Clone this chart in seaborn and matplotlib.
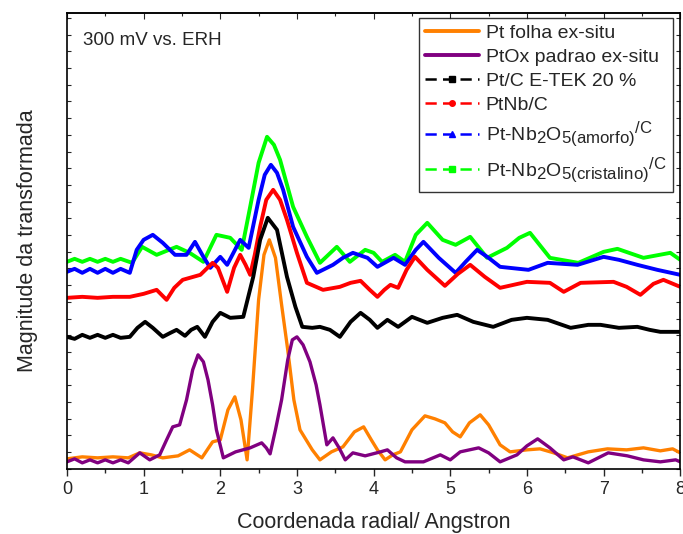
import numpy as np
import pandas as pd
import seaborn as sns
import matplotlib
matplotlib.use("Agg")
import matplotlib.pyplot as plt
import matplotlib._mathtext as _mt
from matplotlib.lines import Line2D
from matplotlib.ticker import MultipleLocator, NullFormatter

# ---------------- data ----------------
x_orange = [0, 0.2, 0.4, 0.6, 0.8, 0.95, 1.1, 1.25, 1.45, 1.6, 1.76, 1.9, 2.0, 2.1, 2.19, 2.27, 2.35,
            2.42, 2.5, 2.57, 2.64, 2.72, 2.8, 2.88, 2.96, 3.04, 3.12, 3.2, 3.3, 3.45, 3.6, 3.75, 3.87,
            3.97, 4.05, 4.15, 4.25, 4.35, 4.5, 4.67, 4.8, 4.93, 5.03, 5.13, 5.25, 5.39, 5.5, 5.65,
            5.78, 6.0, 6.17, 6.35, 6.53, 6.8, 7.05, 7.3, 7.52, 7.74, 7.9, 8.0]
y_orange = [10, 12, 11, 12, 11, 16, 14, 11, 13, 19, 11, 27, 29, 59, 72, 49, 9,
            79, 169, 214, 229, 211, 164, 119, 69, 39, 29, 19, 9, 17, 22, 37, 42,
            29, 19, 9, 14, 17, 39, 53, 50, 46, 37, 32, 46, 54, 44, 24,
            17, 19, 20, 16, 11, 17, 20, 19, 21, 18, 20, 16]

x_purple = [0, 0.1, 0.2, 0.3, 0.4, 0.5, 0.6, 0.7, 0.8, 0.95, 1.08, 1.21, 1.3, 1.38, 1.47, 1.56, 1.64,
            1.71, 1.78, 1.84, 1.9, 1.95, 2.04, 2.12, 2.2, 2.39, 2.54, 2.6, 2.65, 2.72, 2.8, 2.88,
            2.94, 3.0, 3.08, 3.17, 3.25, 3.3, 3.39, 3.47, 3.55, 3.63, 3.73, 3.89, 4.09, 4.18, 4.3,
            4.41, 4.65, 4.87, 5.0, 5.13, 5.37, 5.5, 5.65, 5.87, 6.0, 6.14, 6.3, 6.48, 6.6, 6.8,
            7.06, 7.31, 7.52, 7.74, 7.94, 8.0]
y_purple = [7, 10, 6, 9, 6, 9, 6, 9, 6, 16, 9, 14, 29, 42, 44, 69, 99,
            114, 107, 89, 64, 39, 11, 14, 17, 21, 26, 21, 15, 39, 69, 109,
            129, 132, 124, 107, 84, 64, 24, 31, 21, 9, 16, 13, 17, 19, 11,
            7, 7, 14, 9, 17, 21, 16, 7, 14, 23, 30, 21, 9, 12, 6,
            16, 13, 9, 7, 9, 7]

x_black = [0, 0.1, 0.2, 0.3, 0.4, 0.5, 0.6, 0.7, 0.82, 0.92, 1.02, 1.12, 1.25, 1.35, 1.43, 1.54, 1.62,
           1.7, 1.8, 1.9, 2.0, 2.13, 2.3, 2.43, 2.52, 2.62, 2.74, 2.87, 2.98, 3.07, 3.2, 3.3, 3.43,
           3.56, 3.7, 3.83, 3.95, 4.05, 4.18, 4.32, 4.5, 4.7, 4.9, 5.09, 5.3, 5.56, 5.8, 6.0, 6.27,
           6.57, 6.8, 6.96, 7.2, 7.44, 7.6, 7.74, 8.0]
y_black = [132, 130, 134, 131, 134, 131, 134, 131, 132, 141, 147, 141, 132, 136, 139, 133, 139,
           142, 132, 147, 156, 151, 152, 192, 229, 251, 239, 192, 162, 142, 141, 142, 139,
           132, 147, 156, 149, 141, 149, 142, 152, 146, 151, 154, 147, 142, 149, 151, 149,
           141, 144, 144, 141, 142, 139, 137, 137]

x_red = [0, 0.2, 0.4, 0.6, 0.82, 1.0, 1.17, 1.3, 1.4, 1.51, 1.74, 1.9, 1.97, 2.09, 2.18, 2.26, 2.33,
         2.39, 2.45, 2.52, 2.6, 2.69, 2.78, 2.87, 3.0, 3.13, 3.34, 3.56, 3.7, 3.83, 3.95, 4.05, 4.14,
         4.22, 4.32, 4.43, 4.54, 4.7, 4.93, 5.1, 5.26, 5.45, 5.65, 6.0, 6.3, 6.48, 6.7, 7.13, 7.3,
         7.48, 7.65, 7.78, 8.0]
y_red = [171, 172, 171, 172, 172, 175, 179, 169, 181, 189, 194, 206, 201, 177, 201, 214, 204,
         194, 214, 242, 269, 279, 269, 249, 216, 186, 179, 182, 186, 188, 179, 172, 179,
         184, 181, 199, 212, 199, 183, 195, 204, 192, 181, 187, 186, 177, 186, 187, 182,
         174, 185, 189, 182]

x_blue = [0, 0.1, 0.2, 0.3, 0.4, 0.5, 0.6, 0.7, 0.82, 0.91, 1.0, 1.12, 1.25, 1.41, 1.56, 1.67, 1.78,
          1.87, 2.0, 2.09, 2.26, 2.37, 2.5, 2.58, 2.66, 2.74, 2.82, 2.95, 3.13, 3.26, 3.47, 3.6,
          3.73, 3.92, 4.05, 4.26, 4.41, 4.55, 4.65, 4.85, 5.07, 5.2, 5.35, 5.5, 5.65, 6.02, 6.27,
          6.66, 7.0, 7.2, 7.44, 7.7, 8.0]
y_blue = [197, 200, 196, 200, 196, 200, 196, 200, 196, 219, 229, 234, 226, 214, 214, 227, 212,
          201, 212, 204, 229, 221, 269, 294, 304, 296, 279, 242, 212, 196, 204, 211,
          216, 211, 202, 211, 204, 219, 227, 211, 196, 207, 219, 211, 202, 199, 206,
          204, 212, 209, 204, 199, 194]

x_green = [0, 0.1, 0.2, 0.3, 0.4, 0.5, 0.6, 0.7, 0.85, 0.98, 1.17, 1.3, 1.43, 1.6, 1.78, 1.95, 2.13,
           2.28, 2.39, 2.5, 2.61, 2.7, 2.78, 2.95, 3.13, 3.3, 3.52, 3.69, 3.89, 4.0, 4.11, 4.28,
           4.41, 4.55, 4.7, 4.9, 5.07, 5.26, 5.48, 5.74, 5.9, 6.04, 6.3, 6.67, 7.0, 7.18, 7.52,
           7.87, 8.0]
y_green = [207, 210, 207, 210, 207, 210, 207, 210, 206, 222, 214, 218, 222, 216, 207, 234, 231,
           219, 262, 306, 332, 324, 309, 262, 232, 206, 222, 207, 219, 216, 207, 214,
           207, 234, 246, 229, 224, 232, 211, 221, 231, 236, 211, 206, 217, 220, 211,
           216, 209]

labels = ["Pt folha ex-situ",
          "PtOx padrao ex-situ",
          "Pt/C E-TEK 20 %",
          "PtNb/C",
          r"Pt-Nb$_{2}$O$_{5\mathrm{(amorfo)}}$$^{\mathrm{/C}}$",
          r"Pt-Nb$_{2}$O$_{5\mathrm{(cristalino)}}$$^{\mathrm{/C}}$"]
colors = ["#FF8000", "#800080", "#000000", "#FF0000", "#0000FF", "#00FF00"]
markers = [None, None, "s", "o", "^", "s"]
xs = [x_orange, x_purple, x_black, x_red, x_blue, x_green]
ys = [y_orange, y_purple, y_black, y_red, y_blue, y_green]

# ---------------- style ----------------
sns.set_style("ticks")
plt.rcParams["font.family"] = ["Liberation Sans", "DejaVu Sans"]
plt.rcParams["mathtext.fontset"] = "custom"
plt.rcParams["mathtext.rm"] = "Liberation Sans"
plt.rcParams["mathtext.it"] = "Liberation Sans"
plt.rcParams["mathtext.default"] = "regular"
# the reference uses larger sub/superscripts than mathtext's default
try:
    _mt.SHRINK_FACTOR = 0.86
except Exception:
    pass

fig = plt.figure(figsize=(6.83, 5.34), dpi=100)
ax = fig.add_axes([0.098, 0.122, 0.898, 0.854])

# draw back-to-front: dotted curves first then the solid ones on top
order = [5, 4, 3, 2, 0, 1]
for i in order:
    df = pd.DataFrame({"r": xs[i], "mag": ys[i]})
    lw = 2.4 if i < 2 else 2.8
    sns.lineplot(data=df, x="r", y="mag", ax=ax, color=colors[i], linewidth=lw,
                 sort=False, estimator=None, legend=False,
                 solid_joinstyle="round", solid_capstyle="round")

ax.set_xlim(0, 8)
ax.set_ylim(0, 456)
ax.xaxis.set_major_locator(MultipleLocator(1))
ax.xaxis.set_minor_locator(MultipleLocator(0.5))
ax.yaxis.set_major_locator(MultipleLocator(16.7))
ax.yaxis.set_major_formatter(NullFormatter())
ax.tick_params(axis="x", which="major", direction="out", length=5, width=1.0,
               labelsize=13, top=False, pad=4)
ax.tick_params(axis="x", which="minor", direction="out", length=3, width=1.0, top=False)
ax.tick_params(axis="y", which="major", direction="in", length=3, width=0.8, right=True)

# inward ticks on the top edge
top = ax.secondary_xaxis("top")
top.xaxis.set_major_locator(MultipleLocator(1))
top.xaxis.set_minor_locator(MultipleLocator(0.5))
top.xaxis.set_major_formatter(NullFormatter())
top.tick_params(axis="x", which="major", direction="in", length=4, width=0.8)
top.tick_params(axis="x", which="minor", direction="in", length=2.5, width=0.8)
top.spines["top"].set_linewidth(1.2)

for s in ax.spines.values():
    s.set_linewidth(1.2)
    s.set_color("black")

ax.set_xlabel("Coordenada radial/ Angstron", fontsize=15.5, labelpad=10)
ax.set_ylabel("Magnitude da transformada", fontsize=15.5, labelpad=17)
ax.text(0.026, 0.94, "300 mV vs. ERH", transform=ax.transAxes, fontsize=13.5,
        ha="left", va="center")

handles = []
for i in range(6):
    if markers[i] is None:
        h = Line2D([0, 0.5, 1], [0, 0, 0], color=colors[i], lw=2.8)
    else:
        h = Line2D([0, 0.5, 1], [0, 0, 0], color=colors[i], lw=1.8,
                   linestyle=(0, (4.5, 2.5)), marker=markers[i], markersize=4,
                   markevery=[1])
    handles.append(h)

leg = ax.legend(handles, labels, loc="upper right", bbox_to_anchor=(0.9886, 0.989),
                borderaxespad=0, fontsize=14, frameon=True, fancybox=False,
                handlelength=2.75, handletextpad=0.35, labelspacing=0.32,
                borderpad=0.35)
leg.get_frame().set_edgecolor("black")
leg.get_frame().set_linewidth(1.0)

fig.savefig("out.png", dpi=100)
